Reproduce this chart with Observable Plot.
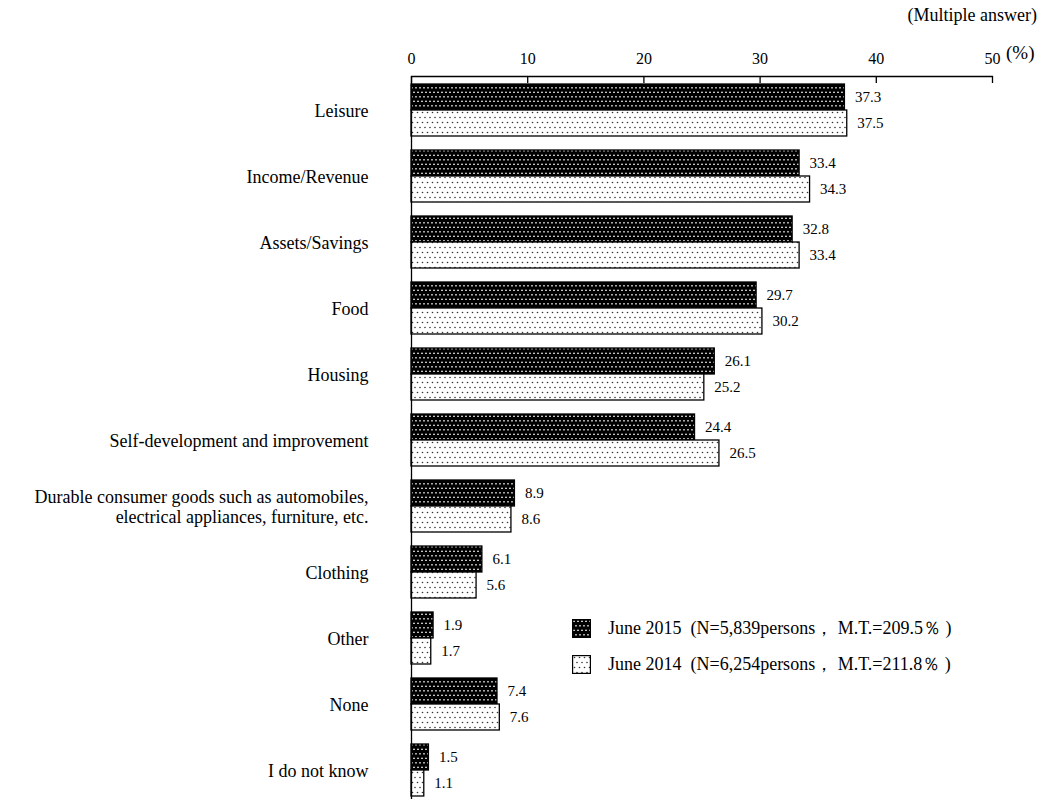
<!DOCTYPE html>
<html>
<head>
<meta charset="utf-8">
<script src="https://cdn.jsdelivr.net/npm/d3@7"></script>
<script src="https://cdn.jsdelivr.net/npm/@observablehq/plot@0.6"></script>
<style>
  html, body { margin: 0; padding: 0; background: #fff; }
  #wrap { position: relative; width: 1044px; height: 799px; font-family: "Liberation Serif", "Times New Roman", serif; color: #000; }
  .note { position: absolute; white-space: pre; }
  .legend-row { position: absolute; left: 572px; display: flex; align-items: center; white-space: pre; font-size: 18px; }
  .legend-row svg { margin-right: 17px; }
</style>
</head>
<body>
<div id="wrap"></div>
<script>
const categories = ["Leisure", "Income/Revenue", "Assets/Savings", "Food", "Housing",
  "Self-development and improvement", "Durable consumer goods", "Clothing", "Other", "None", "I do not know"];
const categoryLabels = ["Leisure", "Income/Revenue", "Assets/Savings", "Food", "Housing",
  "Self-development and improvement",
  "Durable consumer goods such as automobiles,\nelectrical appliances, furniture, etc.",
  "Clothing", "Other", "None", "I do not know"];
const values2015 = [37.3, 33.4, 32.8, 29.7, 26.1, 24.4, 8.9, 6.1, 1.9, 7.4, 1.5];
const values2014 = [37.5, 34.3, 33.4, 30.2, 25.2, 26.5, 8.6, 5.6, 1.7, 7.6, 1.1];
const seriesLabels = ["June 2015  (N=5,839persons， M.T.=209.5％ )", "June 2014  (N=6,254persons， M.T.=211.8％ )"];
const xTicks = [0, 10, 20, 30, 40, 50];

const rows = categories.map((c, i) => ({category: c, v2015: values2015[i], v2014: values2014[i]}));

const svg = Plot.plot({
  width: 1044,
  height: 799,
  marginTop: 76,
  marginBottom: 0,
  marginLeft: 411,
  marginRight: 52,
  style: {fontFamily: "'Liberation Serif', 'Times New Roman', serif", fontSize: "16px", color: "#000", background: "transparent", overflow: "visible"},
  x: {domain: [0, 50]},
  y: {domain: categories, range: [76, 804], paddingInner: 0.2145, paddingOuter: 0.106},
  marks: [
    Plot.barX(rows, {y: "category", x1: 0, x2: "v2015", fill: "url(#dark)", stroke: "#000", strokeWidth: 1.3, insetBottom: 26}),
    Plot.barX(rows, {y: "category", x1: 0, x2: "v2014", fill: "url(#light)", stroke: "#000", strokeWidth: 1.3, insetTop: 26}),
    Plot.text(rows, {y: "category", x: "v2015", text: d => d.v2015.toFixed(1), dx: 10, dy: -13, textAnchor: "start", fontSize: 15}),
    Plot.text(rows, {y: "category", x: "v2014", text: d => d.v2014.toFixed(1), dx: 10, dy: 13, textAnchor: "start", fontSize: 15}),
    Plot.ruleX([0], {stroke: "#000", strokeWidth: 1.3}),
    Plot.frame({anchor: "top", stroke: "#000", strokeWidth: 1.3}),
    Plot.axisX(xTicks, {anchor: "top", tickSize: -6, tickPadding: 19, fontSize: 16, stroke: "#000", strokeWidth: 1.3, label: null}),
    Plot.axisY({tickSize: 0, tickPadding: 43, fontSize: 18, lineHeight: 1.12, label: null,
      tickFormat: d => categoryLabels[categories.indexOf(d)]})
  ]
});

// patterns
const defs = d3.select(svg).insert("defs", ":first-child");
const pd = defs.append("pattern").attr("id", "dark").attr("patternUnits", "userSpaceOnUse")
  .attr("width", 8).attr("height", 9);
pd.append("rect").attr("width", 8).attr("height", 9).attr("fill", "#000");
[[2, 2.25], [6, 2.25], [0, 6.75], [4, 6.75], [8, 6.75]].forEach(([cx, cy]) =>
  pd.append("circle").attr("cx", cx).attr("cy", cy).attr("r", 0.85).attr("fill", "#fff"));
const pl = defs.append("pattern").attr("id", "light").attr("patternUnits", "userSpaceOnUse")
  .attr("width", 10).attr("height", 10);
pl.append("rect").attr("width", 10).attr("height", 10).attr("fill", "#fff");
[[2.5, 2.5], [7.5, 2.5], [0, 7.5], [5, 7.5], [10, 7.5]].forEach(([cx, cy]) =>
  pl.append("circle").attr("cx", cx).attr("cy", cy).attr("r", 0.8).attr("fill", "#333"));

const wrap = document.getElementById("wrap");
wrap.appendChild(svg);
svg.style.position = "absolute";
svg.style.left = "0";
svg.style.top = "0";

// notes
const n1 = document.createElement("div");
n1.className = "note";
n1.style.right = "7px"; n1.style.top = "5px"; n1.style.fontSize = "18px";
n1.textContent = "(Multiple answer)";
wrap.appendChild(n1);
const n2 = document.createElement("div");
n2.className = "note";
n2.style.left = "1006px"; n2.style.top = "42px"; n2.style.fontSize = "19px";
n2.textContent = "(%)";
wrap.appendChild(n2);

// legend
seriesLabels.forEach((lab, i) => {
  const row = document.createElement("div");
  row.className = "legend-row";
  row.style.top = (i === 0 ? 616 : 652) + "px";
  row.innerHTML = `<svg width="19" height="19"><rect x="0.6" y="0.6" width="17.8" height="17.8" fill="url(#${i === 0 ? "dark" : "light"})" stroke="#000" stroke-width="1.2"/></svg><span>${lab}</span>`;
  wrap.appendChild(row);
});
</script>
</body>
</html>
